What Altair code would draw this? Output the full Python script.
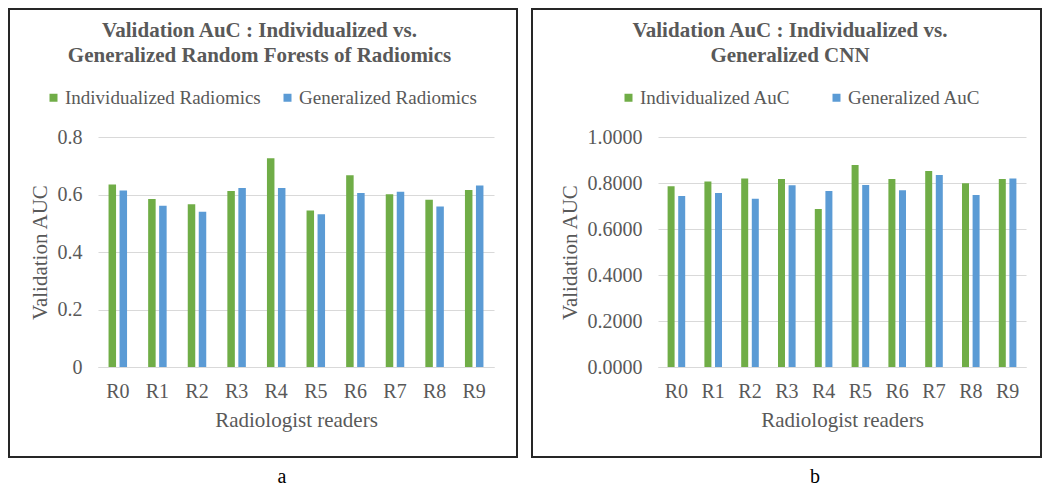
import altair as alt
import pandas as pd

readers = ["R0", "R1", "R2", "R3", "R4", "R5", "R6", "R7", "R8", "R9"]

rf_individual = [0.635, 0.584, 0.566, 0.612, 0.726, 0.544, 0.667, 0.601, 0.582, 0.616]
rf_generalized = [0.614, 0.561, 0.540, 0.623, 0.623, 0.531, 0.605, 0.610, 0.558, 0.631]
cnn_individual = [0.786, 0.807, 0.820, 0.817, 0.687, 0.878, 0.817, 0.852, 0.799, 0.817]
cnn_generalized = [0.743, 0.757, 0.732, 0.790, 0.765, 0.791, 0.768, 0.835, 0.748, 0.820]

rf_series = ["Individualized Radiomics", "Generalized Radiomics"]
cnn_series = ["Individualized AuC", "Generalized AuC"]

rf_ticks = [0, 0.2, 0.4, 0.6, 0.8]
cnn_ticks = [0, 0.2, 0.4, 0.6, 0.8, 1.0]

rf_title = ["Validation AuC : Individualized vs.", "Generalized Random Forests of Radiomics"]
cnn_title = ["Validation AuC : Individualized vs.", "Generalized CNN"]

GREEN = "#70AD47"
BLUE = "#5B9BD5"
GREY = "#595959"
FONT = "Liberation Serif"
H = 230


def make_panel(ind, gen, series, ticks, fmt, W, bar_w, bar_off, title_lines, title_x,
               legend_x, col_pad, border_left, border_right, caption, caption_x):
    df = pd.DataFrame({
        "reader": readers * 2,
        "series": [series[0]] * len(readers) + [series[1]] * len(readers),
        "value": ind + gen,
    })
    base = alt.Chart(df).encode(
        x=alt.X("reader:N", sort=readers,
                scale=alt.Scale(paddingInner=0, paddingOuter=0),
                axis=alt.Axis(title="Radiologist readers", labelAngle=0, ticks=False,
                              grid=False, domainColor="#D9D9D9", domainWidth=1,
                              labelFont=FONT, labelFontSize=20, labelColor=GREY,
                              labelPadding=14, titleFont=FONT, titleFontSize=21,
                              titleFontWeight="normal", titleColor=GREY, titlePadding=8)),
        y=alt.Y("value:Q",
                scale=alt.Scale(domain=[0, ticks[-1]], nice=False, zero=True),
                axis=alt.Axis(title="Validation AUC", values=ticks, format=fmt,
                              domain=False, ticks=False, grid=True, gridColor="#D9D9D9",
                              gridWidth=1, labelFont=FONT, labelFontSize=20,
                              labelColor=GREY, labelPadding=16, titleFont=FONT,
                              titleFontSize=21, titleFontWeight="normal",
                              titleColor=GREY, titlePadding=7)),
        color=alt.Color("series:N", sort=series,
                        scale=alt.Scale(domain=series, range=[GREEN, BLUE]),
                        legend=alt.Legend(title=None, orient="none", legendX=legend_x,
                                          legendY=-49, direction="horizontal", columns=2,
                                          columnPadding=col_pad, symbolType="square",
                                          symbolSize=64, symbolStrokeWidth=0,
                                          labelOffset=2, labelLimit=400, labelFont=FONT,
                                          labelFontSize=19, labelColor=GREY, padding=0)),
    )
    bars_ind = base.transform_filter(alt.datum.series == series[0]).mark_bar(
        width=bar_w, xOffset=-bar_off)
    bars_gen = base.transform_filter(alt.datum.series == series[1]).mark_bar(
        width=bar_w, xOffset=bar_off)
    one = alt.Data(values=[{"k": 1}])
    title = alt.Chart(one).mark_text(
        font=FONT, fontSize=21, fontWeight="bold", color=GREY, align="center",
        baseline="alphabetic", lineHeight=25,
    ).encode(x=alt.value(title_x), y=alt.value(-100), text=alt.value(title_lines))
    cap = alt.Chart(one).mark_text(
        font=FONT, fontSize=20, color="#000000", align="center", baseline="alphabetic",
    ).encode(x=alt.value(caption_x), y=alt.value(H + 116), text=alt.value(caption))
    border = alt.Chart(one).mark_rect(
        fill="transparent", stroke="#262626", strokeWidth=2,
    ).encode(x=alt.value(border_left), x2=alt.value(W + border_right),
             y=alt.value(-128), y2=alt.value(H + 90))
    return alt.layer(border, bars_ind, bars_gen, title, cap).properties(width=W, height=H)


left = make_panel(rf_individual, rf_generalized, rf_series, rf_ticks, ".1~f", 396,
                  7.5, 5.5, rf_title, 161.5, -54, 17, -89, 23, "a", 184)
right = make_panel(cnn_individual, cnn_generalized, cnn_series, cnn_ticks, ".4f", 368,
                   7, 5.3, cnn_title, 132, -39, 36, -126, 15, "b", 157)

chart = (
    alt.hconcat(left, right, spacing=13)
    .resolve_scale(color="independent")
    .properties(padding=0)
    .configure(font=FONT)
    .configure_view(strokeWidth=0)
)

chart.save("out.html", embed_options={"renderer": "svg", "actions": False})
